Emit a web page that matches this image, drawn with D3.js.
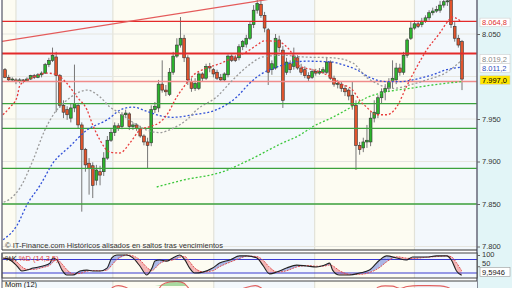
<!DOCTYPE html>
<html lang="es">
<head>
<meta charset="UTF-8">
<title>Gráfico diario - IT-Finance</title>
<script src="https://d3js.org/d3.v7.min.js"></script>
<style>
  body { margin: 0; background: #fff; }
  svg { display: block; font-family: "Liberation Sans", Arial, sans-serif; }
  .axis text { font-size: 7.5px; fill: #333; }
  .axis line { stroke: #666; }
  .axis .domain { display: none; }
</style>
</head>
<body>
<div id="chart"></div>
<script>
// daily candles (index 0 = first candle on the left)
const open = [8.008,7.999,7.996,7.996,7.994,7.996,7.995,7.997,8.001,7.999,8.002,8.004,8.014,8.019,8.023,8.001,7.966,7.961,7.951,7.963,
  7.966,7.943,7.914,7.898,7.895,7.878,7.888,7.888,7.904,7.925,7.934,7.942,7.941,7.955,7.956,7.941,7.943,7.939,7.930,7.923,
  7.922,7.961,7.963,7.991,7.984,7.979,8.005,8.024,8.037,8.045,8.022,7.994,7.986,7.986,8.003,7.998,8.012,8.008,8.005,7.999,
  7.996,8.002,8.024,8.022,8.022,8.035,8.038,8.045,8.061,8.078,8.085,8.072,8.055,8.008,8.010,8.043,8.031,8.005,8.015,8.012,
  8.022,8.010,8.008,8.001,7.999,8.006,8.004,8.005,8.005,8.017,7.998,7.991,7.991,7.986,7.984,7.978,7.966,7.919,7.916,7.923,
  7.923,7.951,7.956,7.975,7.982,7.986,7.994,7.996,8.010,8.005,8.025,8.045,8.057,8.062,8.061,8.065,8.069,8.075,8.077,8.078,
  8.084,8.088,8.090,8.059,8.045,8.041];
const high = [8.010,8.002,7.999,7.998,7.998,7.997,7.999,8.002,8.003,8.004,8.006,8.016,8.022,8.034,8.029,8.003,7.972,7.965,7.968,8.014,
  7.969,7.946,7.916,7.904,7.899,7.896,7.895,7.911,7.930,7.939,7.946,7.945,7.958,7.961,7.958,7.946,7.945,7.942,7.932,7.928,
  7.966,7.970,7.996,8.019,7.990,8.010,8.029,8.045,8.070,8.049,8.025,7.998,7.998,8.005,8.005,8.015,8.016,8.010,8.008,8.003,
  8.005,8.026,8.026,8.025,8.038,8.043,8.049,8.064,8.084,8.096,8.090,8.076,8.057,8.019,8.050,8.048,8.036,8.022,8.019,8.034,
  8.025,8.015,8.012,8.005,8.009,8.009,8.010,8.011,8.022,8.019,8.001,7.996,7.994,7.990,7.986,7.994,7.972,7.923,7.928,7.943,
  7.958,7.972,7.978,7.986,7.991,7.998,8.019,8.016,8.015,8.029,8.045,8.064,8.066,8.065,8.069,8.072,8.078,8.081,8.083,8.089,
  8.094,8.095,8.096,8.064,8.049,8.043];
const low = [7.998,7.994,7.994,7.991,7.992,7.992,7.994,7.996,7.997,7.998,7.999,8.003,8.011,8.017,7.958,7.963,7.951,7.949,7.946,7.958,
  7.939,7.841,7.888,7.861,7.857,7.872,7.872,7.883,7.902,7.923,7.930,7.936,7.938,7.951,7.937,7.937,7.936,7.928,7.919,7.892,
  7.918,7.957,7.958,7.981,7.977,7.977,8.002,8.022,8.034,8.017,7.990,7.982,7.983,7.984,7.994,7.996,8.005,7.999,7.996,7.994,
  7.994,7.999,8.017,8.017,8.019,8.031,8.034,8.043,8.057,8.074,8.069,8.052,7.990,8.002,8.008,8.029,7.963,8.002,8.004,8.008,
  8.008,8.002,7.998,7.994,7.997,8.001,8.002,8.003,8.003,7.996,7.988,7.986,7.982,7.977,7.972,7.961,7.890,7.908,7.911,7.916,
  7.918,7.946,7.951,7.968,7.972,7.982,7.986,7.991,8.001,8.002,8.022,8.043,8.055,8.057,8.058,8.063,8.066,8.072,8.075,8.075,
  8.081,8.083,8.057,8.041,8.034,7.984];
const close = [7.999,7.996,7.997,7.994,7.996,7.995,7.997,8.001,7.999,8.002,8.004,8.014,8.019,8.025,8.001,7.966,7.958,7.955,7.963,7.968,
  7.943,7.914,7.896,7.892,7.872,7.890,7.884,7.904,7.925,7.934,7.942,7.939,7.955,7.957,7.941,7.943,7.939,7.930,7.923,7.919,
  7.961,7.965,7.991,7.984,7.982,8.005,8.024,8.037,8.045,8.022,7.996,7.986,7.992,8.003,7.998,8.012,8.010,8.003,7.998,7.996,
  8.003,8.024,8.019,8.019,8.035,8.041,8.045,8.061,8.078,8.086,8.072,8.057,8.005,8.015,8.045,8.034,7.972,8.017,8.008,8.024,
  8.010,8.005,8.001,7.998,8.006,8.004,8.006,8.008,8.017,7.998,7.991,7.992,7.986,7.982,7.977,7.966,7.919,7.914,7.923,7.925,
  7.951,7.958,7.975,7.982,7.986,7.994,7.998,8.010,8.005,8.025,8.043,8.057,8.062,8.059,8.065,8.069,8.075,8.077,8.079,8.084,
  8.088,8.089,8.061,8.045,8.037,7.997];

// moving averages (sampled: candle index, value)
const maFastIdx = [-1.4,1.4,3.3,4.1,7.7,11.5,14.2,16.9,19.7,22.4,24.0,26.0,28.7,31.4,34.2,36.9,39.6,42.3,44.3,47.0,48.6,51.4,55.2,58.7,
  62.3,66.1,68.9,71.0,74.6,77.9,80.6,84.2,88.0,91.5,95.1,97.0,98.9,101.6,104.4,107.1,109.8,112.6,115.3,118.9,120.8,122.4,124.9];
const maFast = [7.952,7.964,7.976,7.990,7.999,8.004,8.002,7.992,7.976,7.961,7.943,7.925,7.911,7.910,7.922,7.937,7.941,7.946,7.955,7.976,
  7.986,8.001,8.010,8.015,8.022,8.029,8.037,8.042,8.041,8.031,8.012,8.008,8.002,7.992,7.984,7.972,7.964,7.955,7.955,7.964,
  7.988,8.011,8.031,8.051,8.063,8.070,8.064];
const maMidIdx = [-1.4,1.4,4.1,7.7,10.9,13.7,16.9,20.5,22.4,26.0,28.7,31.4,35.0,38.8,42.3,45.9,49.7,52.5,57.9,62.3,66.9,70.5,76.0,
  81.4,89.6,95.1,98.9,101.6,106.0,110.7,115.3,120.8,124.9];
const maMid = [7.851,7.856,7.869,7.902,7.937,7.958,7.972,7.982,7.984,7.976,7.964,7.957,7.946,7.937,7.934,7.939,7.949,7.961,7.976,7.996,
  8.014,8.023,8.025,8.023,8.022,8.016,7.999,7.992,7.986,7.990,7.996,8.005,8.019];
const maSlowIdx = [-0.5,3.3,6.0,9.6,13.1,17.8,22.4,27.9,32.2,35.0,38.8,42.3,45.9,51.4,57.9,63.4,66.9,70.5,74.3,77.9,82.5,89.6,92.3,
  96.2,99.7,104.4,107.9,111.5,116.9,120.8,124.9];
const maSlow = [7.808,7.825,7.849,7.872,7.898,7.918,7.937,7.949,7.962,7.964,7.959,7.954,7.952,7.955,7.961,7.976,7.992,8.004,8.011,8.016,
  8.018,8.017,8.014,8.008,7.999,7.994,7.994,7.996,8.002,8.008,8.011];
const maLongIdx = [41.5,48.6,59.6,66.9,76.0,80.6,84.2,89.6,94.3,98.9,104.4,110.7,116.9,124.9];
const maLong = [7.870,7.878,7.888,7.902,7.922,7.931,7.941,7.952,7.963,7.975,7.982,7.986,7.990,7.994];

// support / resistance levels and trend line
const redLevels = [8.0648, 8.027];
const pinkLevels = [7.994];
const greenLevels = [7.968, 7.939, 7.892, 7.850];
const trendIdx = [-1.4, 72.4];
const trendVal = [8.041, 8.091];

// month separators (candle index)
const monthIdx = [3.0, 29.5, 57.1, 84.7, 112.0];

// price axis
const yTicks = [8.05, 7.95, 7.9, 7.85, 7.8];
const gridTicks = [8.05, 8.0, 7.95, 7.9, 7.85, 7.8];
const tagValues = [8.0648, 8.0192, 8.0112, 7.997];
const tagTexts = ["8.064,8", "8.019,2", "8.011,2", "7.997,0"];
const tagColors = ["#e03030", "#888888", "#3050c0", "#000000"];
const tagFills = ["#ffffff", "#ffffff", "#ffffff", "#ffe600"];
const tagShift = [1, -1.2, 1, 1];

// stochastic %K / %D (14,3,5)
const stochIdx = [-0.5,1.4,3.3,4.6,6.0,7.7,10.4,12.3,13.1,14.2,15.6,16.9,18.6,20.5,22.4,24.0,26.0,27.9,29.2,30.6,33.3,35.0,36.9,38.8,
  40.2,41.0,42.3,44.3,45.9,47.8,49.2,50.5,51.9,54.1,56.8,58.7,61.5,64.2,66.1,68.9,70.5,72.4,74.3,77.0,79.8,82.5,85.2,87.4,
  88.8,89.6,91.5,94.3,97.0,99.7,102.5,104.4,107.1,109.8,111.5,115.3,118.0,120.8,122.1,123.5,124.9];
const stochK = [87,78,51,29,33,42,51,64,87,78,33,11,11,29,33,29,29,42,87,100,100,87,51,11,
  42,73,78,73,87,100,78,42,20,24,42,64,78,96,96,87,55,16,24,42,55,51,47,55,
  64,33,11,11,20,33,78,96,87,78,91,91,96,96,78,29,9.6];
const stochD = [85,84,68,48,36,36,45,55,68,80,60,35,16,18,28,31,30,33,55,80,100,96,78,45,
  30,40,62,75,78,90,93,70,42,25,30,48,68,85,95,93,78,45,24,30,47,53,50,51,
  56,52,30,14,14,22,45,70,92,86,84,90,93,96,92,65,30];

// momentum (12), only its peaks show above the cut
const momIdx = [0,10,14,18,24,28,29.5,31,33,35,38,41,43,45,47,49,50,52,56,60,64,67,68.5,70,72,76,80,85,90,96,100,102,104,106,108,110,113,116,119,121,123,125];
const mom = [-0.02,0,0.02,-0.04,-0.1,0,0.03,0.036,0.03,0.01,-0.02,0,0.04,0.05,0.052,0.045,0.03,0,-0.01,0,0.02,0.033,0.036,0.028,0,-0.02,-0.03,-0.01,-0.01,-0.08,-0.03,0.03,0.035,0.034,0.025,0.033,0.036,0.036,0.035,0.03,0.01,-0.03];
const momFillFloor = 0.035;

const W = 512, H = 288;
const left = 2, right = 477;
const mainTop = 0, mainBottom = 250;
const stTop = 253, stBottom = 278;
const momTop = 281;

const x = d3.scaleLinear().domain([0, 125]).range([5, 462]);
const y = d3.scaleLinear().domain([7.8, 8.05]).range([246.5, 34]);
const ys = d3.scaleLinear().domain([0, 100]).range([277.5, 255]);
const ym = d3.scaleLinear().domain([0, 0.05]).range([295, 282]);

const svg = d3.select("#chart").append("svg")
  .attr("width", W).attr("height", H);

// right axis strip
svg.append("rect").attr("x", right).attr("y", 0).attr("width", W - right).attr("height", H)
  .attr("fill", "#e2f5f7");

const defs = svg.append("defs");
defs.append("clipPath").attr("id", "clipMain").append("rect")
  .attr("x", left).attr("y", mainTop).attr("width", right - left).attr("height", mainBottom - mainTop);
defs.append("clipPath").attr("id", "clipSt").append("rect")
  .attr("x", left).attr("y", stTop).attr("width", right - left).attr("height", stBottom - stTop);
defs.append("clipPath").attr("id", "clipMom").append("rect")
  .attr("x", left).attr("y", momTop).attr("width", right - left).attr("height", H - momTop);

// alternating month bands
const bandEdges = [x.invert(left)].concat(monthIdx, [x.invert(right)]);
function drawBands(g, top, bottom) {
  for (let k = 0; k < bandEdges.length - 1; k++) {
    g.append("rect")
      .attr("x", x(bandEdges[k])).attr("y", top)
      .attr("width", x(bandEdges[k + 1]) - x(bandEdges[k])).attr("height", bottom - top)
      .attr("fill", k % 2 === 0 ? "#fdfcf2" : "#f3f8fc");
  }
  g.selectAll(null).data(monthIdx).enter().append("line")
    .attr("x1", d => x(d)).attr("x2", d => x(d))
    .attr("y1", top).attr("y2", bottom)
    .attr("stroke", "#e2e2d8").attr("stroke-width", 1.2);
}

// ---------- main panel ----------
const main = svg.append("g").attr("clip-path", "url(#clipMain)");
drawBands(main, mainTop, mainBottom);

main.selectAll(".grid").data(gridTicks).enter().append("line")
  .attr("x1", left).attr("x2", right)
  .attr("y1", d => y(d)).attr("y2", d => y(d))
  .attr("stroke", "#e6e6e0").attr("stroke-width", 1);

// candles
const candles = close.map((c, i) => ({ i: i, o: open[i], h: high[i], l: low[i], c: c }));
main.selectAll(".wick").data(candles).enter().append("line")
  .attr("x1", d => x(d.i)).attr("x2", d => x(d.i))
  .attr("y1", d => y(d.h)).attr("y2", d => y(d.l))
  .attr("stroke", "#777").attr("stroke-width", 1);
main.selectAll(".body").data(candles).enter().append("rect")
  .attr("x", d => x(d.i) - 1.4).attr("width", 2.8)
  .attr("y", d => y(Math.max(d.o, d.c)))
  .attr("height", d => Math.max(1, Math.abs(y(d.o) - y(d.c))))
  .attr("fill", d => d.c >= d.o ? "#2cb52c" : "#e2542c")
  .attr("stroke", "#333").attr("stroke-width", 0.6);

// levels
main.selectAll(".green").data(greenLevels).enter().append("line")
  .attr("x1", left).attr("x2", right).attr("y1", d => y(d)).attr("y2", d => y(d))
  .attr("stroke", "#3ca23c").attr("stroke-width", 1.3);
main.selectAll(".pink").data(pinkLevels).enter().append("line")
  .attr("x1", left).attr("x2", right).attr("y1", d => y(d)).attr("y2", d => y(d))
  .attr("stroke", "#f08a8a").attr("stroke-width", 1.5);
main.selectAll(".red").data(redLevels).enter().append("line")
  .attr("x1", left).attr("x2", right).attr("y1", d => y(d)).attr("y2", d => y(d))
  .attr("stroke", "#e42a2a").attr("stroke-width", (d, i) => i === 1 ? 2 : 1.3);
main.append("line")
  .attr("x1", x(trendIdx[0])).attr("y1", y(trendVal[0]))
  .attr("x2", x(trendIdx[1])).attr("y2", y(trendVal[1]))
  .attr("stroke", "#e45a5a").attr("stroke-width", 1.2);

// moving averages (dotted)
const maLine = d3.line().x(d => x(d[0])).y(d => y(d[1])).curve(d3.curveMonotoneX);
const mas = [
  [maLongIdx, maLong, "#3cc83c"],
  [maSlowIdx, maSlow, "#3050d8"],
  [maMidIdx, maMid, "#9a9a9a"],
  [maFastIdx, maFast, "#e83c3c"]
];
mas.forEach(m => {
  main.append("path")
    .datum(d3.zip(m[0], m[1]))
    .attr("d", maLine)
    .attr("fill", "none").attr("stroke", m[2]).attr("stroke-width", 1.3)
    .attr("stroke-dasharray", "2,2");
});

main.append("text").attr("x", 5).attr("y", 247.5)
  .attr("font-size", 7.5).attr("fill", "#333")
  .attr("textLength", 218).attr("lengthAdjust", "spacingAndGlyphs")
  .text("© IT-Finance.com  Históricos alisados en saltos tras vencimientos");

// frame
svg.append("line").attr("x1", left).attr("x2", left).attr("y1", 0).attr("y2", mainBottom)
  .attr("stroke", "#556").attr("stroke-width", 1.2);
svg.append("line").attr("x1", right).attr("x2", right).attr("y1", 0).attr("y2", H)
  .attr("stroke", "#667").attr("stroke-width", 1.5);
svg.append("line").attr("x1", left).attr("x2", right).attr("y1", mainBottom).attr("y2", mainBottom)
  .attr("stroke", "#333").attr("stroke-width", 1.2);

// price axis
svg.append("g").attr("class", "axis")
  .attr("transform", "translate(" + right + ",0)")
  .call(d3.axisRight(y).tickValues(yTicks).tickSize(3).tickPadding(2)
    .tickFormat(d3.format(".3f")));

const tags = svg.selectAll(".tag").data(tagValues).enter().append("g")
  .attr("transform", (d, i) => "translate(480," + (y(d) + tagShift[i]) + ")");
tags.append("rect").attr("x", 0).attr("y", -4.3).attr("width", 30).attr("height", 8.6)
  .attr("fill", (d, i) => tagFills[i]).attr("stroke", "#d0d0d0").attr("stroke-width", 0.6);
tags.append("text").attr("x", 2).attr("y", 2.6)
  .attr("font-size", 7.5).attr("fill", (d, i) => tagColors[i])
  .text((d, i) => tagTexts[i]);

// ---------- stochastic panel ----------
const st = svg.append("g").attr("clip-path", "url(#clipSt)");
drawBands(st, stTop, stBottom);
const stData = stochIdx.map((d, i) => ({ i: d, k: stochK[i], d: stochD[i] }));
for (let k = 0; k < stData.length - 1; k++) {
  const a = stData[k], b = stData[k + 1];
  const falling = (a.d - a.k) + (b.d - b.k) > 0;
  st.append("path")
    .attr("d", "M" + x(a.i) + "," + ys(a.k) + "L" + x(b.i) + "," + ys(b.k) +
      "L" + x(b.i) + "," + ys(b.d) + "L" + x(a.i) + "," + ys(a.d) + "Z")
    .attr("fill", falling ? "#f4b4b4" : "#aab6e6").attr("stroke", "none");
}
st.selectAll(".lvl").data([80, 20]).enter().append("line")
  .attr("x1", left).attr("x2", right).attr("y1", d => ys(d)).attr("y2", d => ys(d))
  .attr("stroke", "#3a3ad0").attr("stroke-width", 1.2);
st.append("path").datum(stData)
  .attr("d", d3.line().x(d => x(d.i)).y(d => ys(d.d)).curve(d3.curveMonotoneX))
  .attr("fill", "none").attr("stroke", "#e05050").attr("stroke-width", 1)
  .attr("stroke-dasharray", "2,1");
st.append("path").datum(stData)
  .attr("d", d3.line().x(d => x(d.i)).y(d => ys(d.k)).curve(d3.curveMonotoneX))
  .attr("fill", "none").attr("stroke", "#222").attr("stroke-width", 1.1);
svg.append("rect").attr("x", left).attr("y", stTop).attr("width", right - left)
  .attr("height", stBottom - stTop).attr("fill", "none")
  .attr("stroke", "#444").attr("stroke-width", 1);
const stLabel = svg.append("text").attr("x", 5).attr("y", 261).attr("font-size", 7.5);
stLabel.append("tspan").attr("fill", "#111").text("%K ");
stLabel.append("tspan").attr("fill", "#e04040").text("%D (14,3,5)");

const stAxis = svg.append("g").attr("class", "axis")
  .attr("transform", "translate(" + right + ",0)")
  .call(d3.axisRight(ys).tickValues([100, 50]).tickSize(3).tickPadding(2));
stAxis.selectAll(".tick text").attr("dy", d => d === 50 ? "-0.1em" : "0.2em");
svg.append("rect").attr("x", 480).attr("y", 267.5).attr("width", 30).attr("height", 9)
  .attr("fill", "#fff").attr("stroke", "#999").attr("stroke-width", 0.6);
svg.append("text").attr("x", 482).attr("y", 274.5).attr("font-size", 7.5).attr("fill", "#222")
  .text("9,5946");

// ---------- momentum panel ----------
const mg = svg.append("g").attr("clip-path", "url(#clipMom)");
drawBands(mg, momTop, H);
const momData = d3.zip(momIdx, mom);
mg.append("path").datum(momData)
  .attr("d", d3.area().x(d => x(d[0])).y0(ym(momFillFloor))
    .y1(d => ym(Math.max(d[1], momFillFloor))).curve(d3.curveMonotoneX))
  .attr("fill", "#a9d9a0");
mg.append("path").datum(momData)
  .attr("d", d3.line().x(d => x(d[0])).y(d => ym(d[1])).curve(d3.curveMonotoneX))
  .attr("fill", "none").attr("stroke", "#e06060").attr("stroke-width", 1.1);
svg.append("line").attr("x1", left).attr("x2", right).attr("y1", momTop).attr("y2", momTop)
  .attr("stroke", "#444").attr("stroke-width", 1.2);
svg.append("line").attr("x1", left).attr("x2", left).attr("y1", stTop).attr("y2", H)
  .attr("stroke", "#556").attr("stroke-width", 1);
svg.append("text").attr("x", 5).attr("y", 287).attr("font-size", 7.5).attr("fill", "#111")
  .text("Mom (12)");
</script>
</body>
</html>
